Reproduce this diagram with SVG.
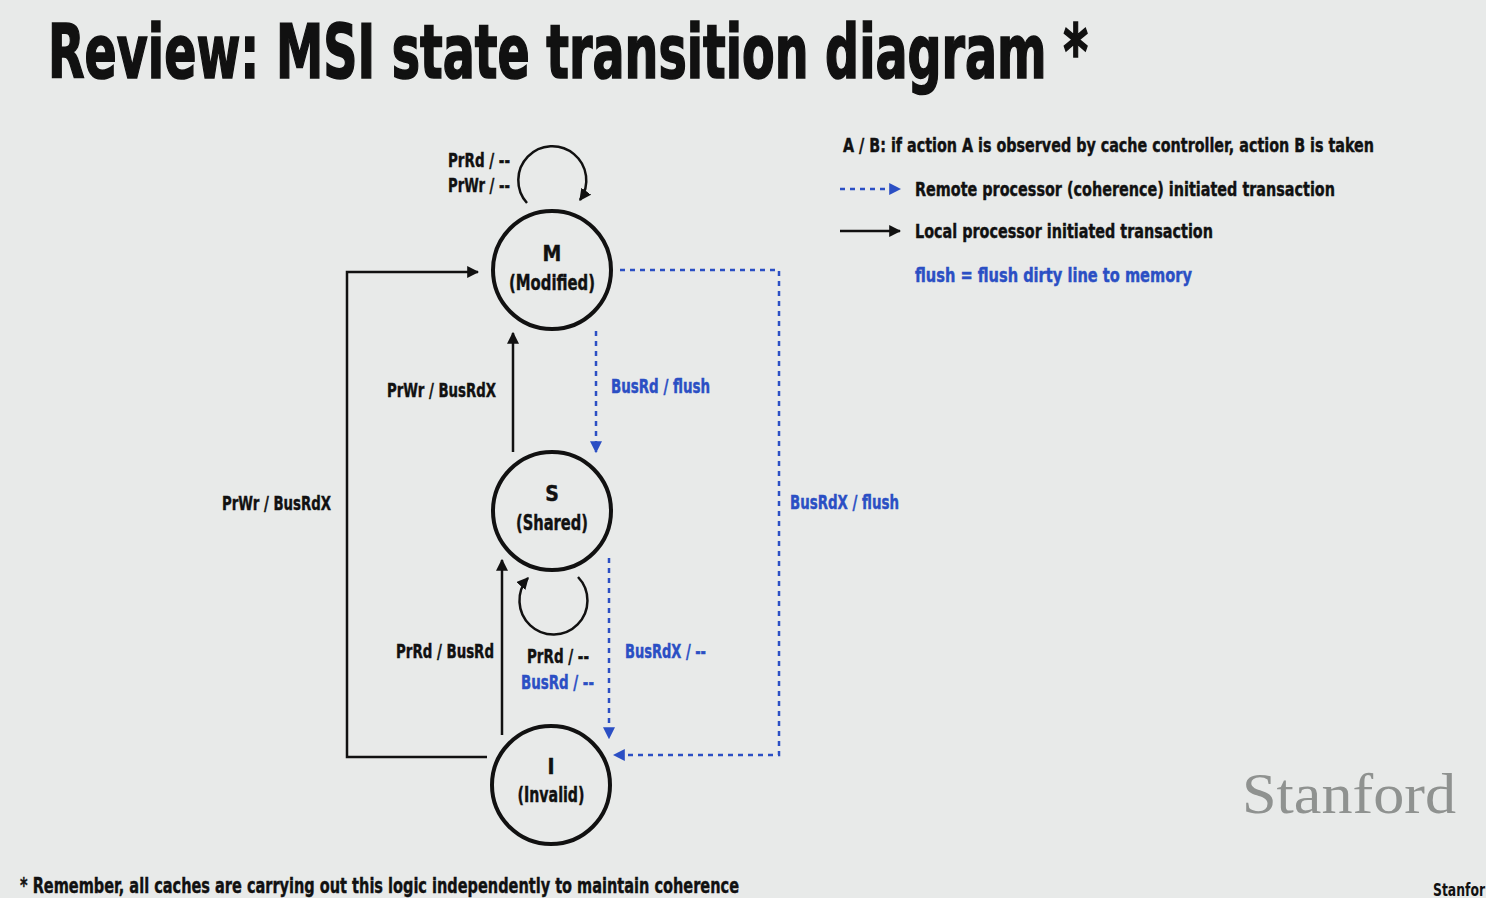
<svg xmlns="http://www.w3.org/2000/svg" width="1486" height="898" viewBox="0 0 1486 898">
<defs>
<style>
text{font-family:"Liberation Sans Narrow","DejaVu Sans Condensed","Liberation Sans",sans-serif;font-weight:bold;fill:#111}
.lbl{font-size:19px;stroke:#111;stroke-width:0.4}
.blue{fill:#2b4fc4;stroke:#2b4fc4}
.node circle{fill:none;stroke:#111;stroke-width:4}
.node text{font-size:21px;text-anchor:middle;stroke:#111;stroke-width:0.4}
.solid{fill:none;stroke:#111;stroke-width:2.5}
.dash{fill:none;stroke:#2b4fc4;stroke-width:2.5;stroke-dasharray:5 5}
.title{stroke:#111;stroke-width:1.6}
</style>
<marker id="ablue" viewBox="0 0 10 10" refX="9" refY="5" markerWidth="12" markerHeight="12" orient="auto" markerUnits="userSpaceOnUse">
<path d="M0,0 L10,5 L0,10 z" fill="#2b4fc4"/>
</marker>
<marker id="ak" viewBox="0 0 10 10" refX="9" refY="5" markerWidth="12" markerHeight="12" orient="auto" markerUnits="userSpaceOnUse">
<path d="M0,0 L10,5 L0,10 z" fill="#111"/>
</marker>
</defs>
<rect width="1486" height="898" fill="#e8eae9"/>
<text class="title" x="48" y="78" font-size="74" textLength="1040" lengthAdjust="spacingAndGlyphs">Review: MSI state transition diagram *</text>

<g id="connectors">
<path class="solid" d="M527,203 A34,34 0 1 1 580,200" marker-end="url(#ak)"/>
<path class="solid" d="M487,757 H347 V272 H478" marker-end="url(#ak)"/>
<path class="solid" d="M513,452 V333" marker-end="url(#ak)"/>
<path class="dash" d="M596,331 V452" marker-end="url(#ablue)"/>
<path class="dash" d="M620,270 H779 V755 H614" marker-end="url(#ablue)"/>
<path class="solid" d="M502,735 V560" marker-end="url(#ak)"/>
<path class="solid" d="M578,577 A34,34 0 1 1 528,578" marker-end="url(#ak)"/>
<path class="dash" d="M609,558 V738" marker-end="url(#ablue)"/>
</g>

<g id="labels">
<text class="lbl" x="448" y="167" textLength="62" lengthAdjust="spacingAndGlyphs">PrRd / --</text>
<text class="lbl" x="448" y="192" textLength="62" lengthAdjust="spacingAndGlyphs">PrWr / --</text>
<text class="lbl" x="222" y="510" textLength="109" lengthAdjust="spacingAndGlyphs">PrWr / BusRdX</text>
<text class="lbl" x="387" y="397" textLength="109" lengthAdjust="spacingAndGlyphs">PrWr / BusRdX</text>
<text class="lbl blue" x="611" y="393" textLength="99" lengthAdjust="spacingAndGlyphs">BusRd / flush</text>
<text class="lbl blue" x="790" y="509" textLength="109" lengthAdjust="spacingAndGlyphs">BusRdX / flush</text>
<text class="lbl" x="396" y="658" textLength="98" lengthAdjust="spacingAndGlyphs">PrRd / BusRd</text>
<text class="lbl" x="527" y="663" textLength="62" lengthAdjust="spacingAndGlyphs">PrRd / --</text>
<text class="lbl blue" x="521" y="689" textLength="73" lengthAdjust="spacingAndGlyphs">BusRd / --</text>
<text class="lbl blue" x="625" y="658" textLength="81" lengthAdjust="spacingAndGlyphs">BusRdX / --</text>
</g>

<g id="node-M" class="node">
<circle cx="552" cy="270" r="59"/>
<text x="552" y="261">M</text>
<text x="552" y="290" textLength="86" lengthAdjust="spacingAndGlyphs">(Modified)</text>
</g>
<g id="node-S" class="node">
<circle cx="552" cy="511" r="59"/>
<text x="552" y="501">S</text>
<text x="552" y="530" textLength="72" lengthAdjust="spacingAndGlyphs">(Shared)</text>
</g>
<g id="node-I" class="node">
<circle cx="551" cy="785" r="59"/>
<text x="551" y="774">I</text>
<text x="551" y="802" textLength="67" lengthAdjust="spacingAndGlyphs">(Invalid)</text>
</g>

<g id="legend">
<text class="lbl" x="843" y="152" textLength="531" lengthAdjust="spacingAndGlyphs">A / B: if action A is observed by cache controller,  action B is taken</text>
<path class="dash" d="M840,189 H900" marker-end="url(#ablue)"/>
<text class="lbl" x="915" y="196" textLength="420" lengthAdjust="spacingAndGlyphs">Remote processor (coherence) initiated transaction</text>
<path class="solid" d="M840,231 H900" marker-end="url(#ak)"/>
<text class="lbl" x="915" y="238" textLength="298" lengthAdjust="spacingAndGlyphs">Local processor initiated transaction</text>
<text class="lbl blue" x="915" y="282" textLength="277" lengthAdjust="spacingAndGlyphs">flush = flush dirty line to memory</text>
</g>

<text x="1242" y="813" font-size="58" style="font-family:'Liberation Serif',serif;font-weight:normal;fill:#8f9290" textLength="214" lengthAdjust="spacingAndGlyphs">Stanford</text>
<text x="1433" y="896" font-size="17" textLength="52" lengthAdjust="spacingAndGlyphs">Stanfor</text>
<text x="20" y="893" font-size="21" style="stroke:#111;stroke-width:0.4" textLength="719" lengthAdjust="spacingAndGlyphs">* Remember, all caches are carrying out this logic independently to maintain coherence</text>
</svg>
